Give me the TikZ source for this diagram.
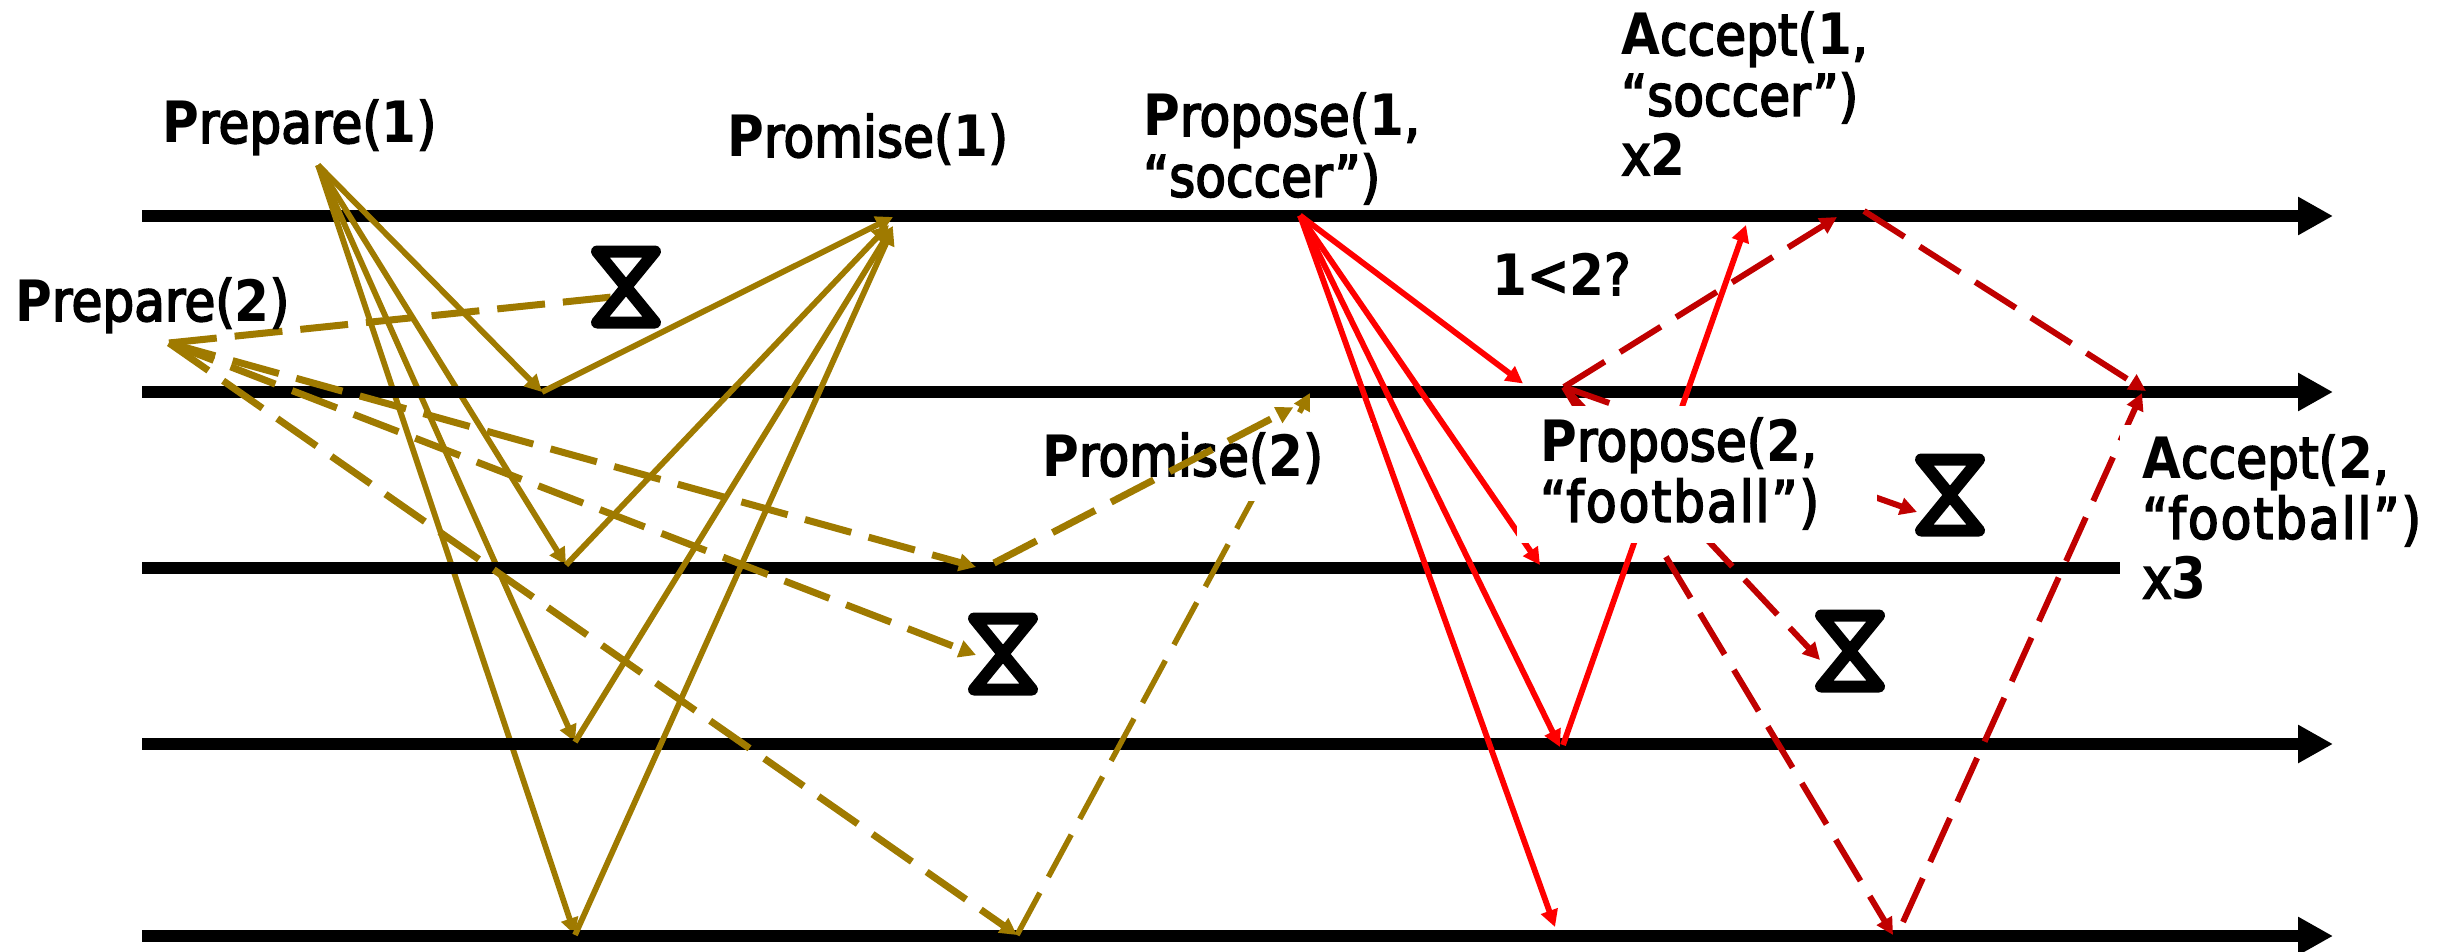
\documentclass[tikz,border=0pt]{standalone}
\usepackage{fontspec}
\usetikzlibrary{arrows.meta,calc}
\newfontfamily\labR[FakeStretch=0.88,FakeBold=3]{DejaVu Sans}
\newfontfamily\labB[FakeStretch=0.88]{DejaVu Sans Bold}
\newcommand\bd[1]{{\labB #1}}
\newcommand\wide[1]{{\addfontfeature{LetterSpace=3.5}#1}}
\newcommand\rows[1]{\begin{tabular}[t]{@{}l@{}}#1\end{tabular}}
\definecolor{gold}{HTML}{9F7A00}
\definecolor{fire}{HTML}{FF0000}
\definecolor{wine}{HTML}{C00000}
\tikzset{
  timeline/.style={line width=12pt,draw=black,-{Triangle[length=35pt,width=36pt]}},
  tip/.style={-{Triangle[length=17pt,width=17pt]}},
  dashes/.style={dash pattern=on 48pt off 18pt},
  goldsolid/.style={draw=gold,line width=5.8pt,tip},
  golddash/.style={draw=gold,line width=7pt,dashes,tip},
  goldthin/.style={draw=gold,line width=5.5pt,dashes,tip},
  firesolid/.style={draw=fire,line width=5.8pt,tip},
  winedash/.style={draw=wine,line width=6pt,dashes,tip},
  lab/.style={anchor=base west,inner sep=0pt,font=\fontsize{57pt}{58pt}\selectfont\labR},
  hourglass/.style={draw=black,line width=12pt,line join=round}
}
\newcommand\hglass[1]{\draw[hourglass] ($(#1)+(-29,-35.5)$) -- ($(#1)+(29,-35.5)$) -- ($(#1)+(-29,35.5)$) -- ($(#1)+(29,35.5)$) -- cycle;}
\begin{document}
\begin{tikzpicture}[x=1pt,y=-1pt]
\useasboundingbox (0,0) rectangle (2446,952);
% ends of the time lines
\foreach \n/\y/\e in {a/216/2333,b/392/2333,c/568/2333,d/744/2333,e/936/2333}{
  \coordinate (\n0) at (142,\y);
  \coordinate (\n1) at (\e,\y);
}
% event points
\coordinate (p1) at (318,165);
\coordinate (p2) at (169,343);
\coordinate (g1) at (542,392);
\coordinate (g2) at (566,565);
\coordinate (g3) at (575,742);
\coordinate (g4) at (575,935);
\coordinate (g1r) at (893,217);
\coordinate (g2r) at (889,225);
\coordinate (g3r) at (893,226);
\coordinate (g4r) at (893,228);
\coordinate (h1) at (626,287);
\coordinate (h2) at (1003,654);
\coordinate (h3) at (1850,651);
\coordinate (h4) at (1950,495);
\coordinate (h1in) at (612,297);
\coordinate (h2in) at (976,655);
\coordinate (h3in) at (1820,660);
\coordinate (h4in) at (1917,512);
\coordinate (q1) at (976,567);
\coordinate (q1s) at (994,563);
\coordinate (q1t) at (1293.3,407.3);
\coordinate (q2) at (1017,935);
\coordinate (q2t) at (1310,393);
\coordinate (r0) at (1300,215.5);
\coordinate (r1) at (1523,383.5);
\coordinate (r2) at (1540,565);
\coordinate (r3) at (1560,747);
\coordinate (r3s) at (1563,745);
\coordinate (r4) at (1555,927);
\coordinate (r3t) at (1746,225);
\coordinate (w0) at (1564,387);
\coordinate (w1) at (1837,217);
\coordinate (w2) at (1893,935);
\coordinate (w2s) at (1903,922);
\coordinate (w3) at (2142,393);
\coordinate (w4) at (1864,211);
\coordinate (w5) at (2146,391);
% time lines and messages
\draw[timeline] (a0) -- (a1);
\draw[goldsolid] (p1) -- (g2);
\draw[goldsolid] (p1) -- (g3);
\draw[goldsolid] (p1) -- (g4);
\draw[timeline] (b0) -- (b1);
\draw[timeline] (c0) -- (c1);
\draw[timeline] (d0) -- (d1);
\draw[timeline] (e0) -- (e1);
\draw[goldsolid] (p1) -- (g1);
\draw[goldsolid] (g1) -- (g1r);
\draw[goldsolid] (g2) -- (g2r);
\draw[goldsolid] (g3) -- (g3r);
\draw[goldsolid] (g4) -- (g4r);
\draw[draw=gold,line width=7pt,dashes] (p2) -- (h1in);
\draw[golddash] (p2) -- (h2in);
\draw[golddash] (p2) -- (q1);
\draw[golddash] (p2) -- (q2);
\draw[goldthin] (q2) -- (q2t);
\draw[firesolid] (r0) -- (r1);
\draw[firesolid] (r0) -- (r2);
\draw[firesolid] (r0) -- (r3);
\draw[firesolid] (r0) -- (r4);
\draw[firesolid] (r3s) -- (r3t);
\draw[winedash] (w0) -- (w1);
\draw[winedash] (w4) -- (w5);
\draw[winedash] (w0) -- (h4in);
\draw[winedash] (w0) -- (h3in);
\draw[winedash] (w0) -- (w2);
\draw[winedash] (w2s) -- (w3);
% white grounds of the labels
\fill[white] (1040,423) rectangle (1372,501);
\fill[white] (1517,406) rectangle (1877,543);
\fill[white] (2120,425) rectangle (2430,600);
% hourglasses
\hglass{h1}
\hglass{h2}
\hglass{h3}
\hglass{h4}
% labels
\node[lab] (tPrep1) at (162,143) {\bd{P}repare(\bd{1})};
\node[lab] (tProm1) at (727,157) {\bd{P}romise(\bd{1})};
\node[lab] (tPrep2) at (15,321) {\bd{P}repare(\bd{2})};
\node[lab] (tProm2) at (1042,476) {\bd{P}romise(\bd{2})};
\node[lab] (tProp1) at (1143,136) {\rows{\bd{P}ropose(\bd{1},\\“soccer”)}};
\node[lab] (tAcc1) at (1621,55) {\rows{\bd{A}ccept(\bd{1},\\“soccer”)\\x\bd{2}}};
\node[lab] (tLess) at (1492,295) {\bd{1}<\bd{2}?};
\node[lab] (tProp2) at (1540,461) {\rows{\bd{P}ropose(\bd{2},\\\wide{“football”)}}};
\node[lab] (tAcc2) at (2142,478) {\rows{\bd{A}ccept(\bd{2},\\\wide{“football”)}\\x\bd{3}}};
% this message runs over its label
\draw[goldthin,line width=7pt] (q1s) -- (q1t);
\end{tikzpicture}
\end{document}
